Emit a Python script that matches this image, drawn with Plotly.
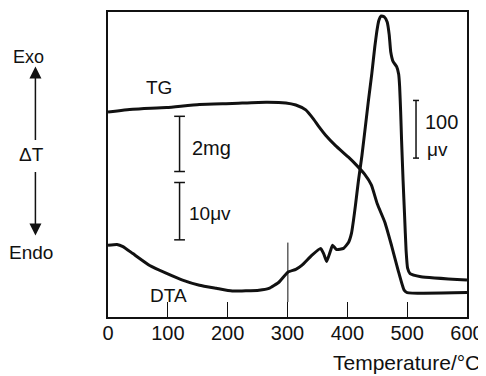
import plotly.graph_objects as go

# ---- data (y in arbitrary signal units, 0-100) ----
tg_temp = [0, 41.5, 98, 152.8, 207.6, 264.1, 297.3, 313.9, 330.5, 343.8, 352.1, 363.7,
           380.3, 401.9, 415.2, 428.5, 440.1, 450.0, 462.8, 473.8, 484.9, 494.9, 499.9, 600]
tg_val = [67.2, 68.1, 68.7, 69.7, 70.0, 70.4, 70.2, 69.5, 67.9, 64.8, 62.5, 59.6,
          56.2, 52.4, 49.8, 46.9, 43.3, 37.1, 31.0, 23.5, 15.3, 8.8, 8.0, 8.0]

dta_temp = [0, 15, 25, 41.5, 69.7, 98, 124.6, 152.8, 181, 207.6, 252.4, 269, 285.6,
            300.6, 313.9, 323.8, 340.5, 355.4, 360.4, 365.4, 372, 375.3, 382, 393.6,
            401.9, 406.9, 410.2, 413.5, 418.5, 424.3, 430.2, 435.1, 440.9, 445.9, 449.2,
            452.5, 456.7, 461.7, 466.6, 470.0, 472.5, 476.6, 482.4, 485.8, 487.4, 489.1,
            490.7, 493.2, 495.7, 498.2, 500.7, 504.8, 523.1, 600]
dta_val = [23.5, 23.8, 23.1, 20.8, 16.9, 14.3, 12.1, 10.4, 9.4, 8.5, 8.8, 9.4, 11.4,
           14.7, 15.6, 16.9, 20.2, 22.5, 20.8, 18.2, 21.8, 23.5, 22.1, 22.5,
           24.4, 27.4, 31.6, 36.5, 44.6, 52.8, 62.5, 70.7, 79.8, 88.6, 93.5,
           97.1, 98.7, 98.4, 96.7, 92.5, 87.0, 83.7, 82.1, 79.6, 75.6, 67.4,
           57.7, 44.6, 33.2, 21.8, 16.0, 14.2, 13.2, 12.1]

tick_vals = [0, 100, 200, 300, 400, 500, 600]
tick_text = ["0", "100", "200", "300", "400", "500", "600"]

marker_temp = 300.6  # onset marker on the DTA curve

FONT = "Liberation Sans"
BLACK = "#111111"

fig = go.Figure()
fig.add_trace(go.Scatter(x=tg_temp, y=tg_val, mode="lines",
                         line=dict(color=BLACK, width=3, shape="spline", smoothing=0.5),
                         showlegend=False, hoverinfo="skip"))
fig.add_trace(go.Scatter(x=dta_temp, y=dta_val, mode="lines",
                         line=dict(color=BLACK, width=3, shape="spline", smoothing=0.4),
                         showlegend=False, hoverinfo="skip"))

shapes = []
def vbar(x, y0, y1, half=9, w=1.5):
    shapes.append(dict(type="line", x0=x, x1=x, y0=y0, y1=y1, xref="x", yref="y",
                       line=dict(color=BLACK, width=w)))
    for yy in (y0, y1):
        shapes.append(dict(type="line", x0=x - half, x1=x + half, y0=yy, y1=yy,
                           xref="x", yref="y", line=dict(color=BLACK, width=w)))

vbar(119.6, 47.7, 65.8)   # 2 mg
vbar(119.6, 25.3, 44.1)   # 10 uV
vbar(514.8, 52.1, 71.0, half=5)   # 100 uV
shapes.append(dict(type="line", x0=marker_temp, x1=marker_temp, y0=4.9, y1=24.4,
                   xref="x", yref="y", line=dict(color=BLACK, width=1)))

ann = []
def txt(x, y, s, size=20, xanchor="center", ref="x"):
    ann.append(dict(x=x, y=y, xref=ref, yref=("y" if ref == "x" else "paper"), text=s,
                    showarrow=False, xanchor=xanchor, yanchor="middle",
                    font=dict(family=FONT, size=size, color=BLACK)))

# left-hand Exo / ΔT / Endo label (outside the plot area -> paper coordinates)
txt(-0.2216, 0.853, "Exo", 18, ref="paper")
txt(-0.2133, 0.534, "ΔT", 19, ref="paper")
txt(-0.2133, 0.212, "Endo", 19, ref="paper")

txt(84.7, 75.2, "TG", 19)
txt(101.3, 7.2, "DTA", 19)
txt(137.8, 55.4, "2mg", 20, "left")
txt(131.2, 33.9, "10μv", 19, "left")
txt(527.0, 63.8, "100", 20, "left")
txt(529.0, 55.0, "μv", 19, "left")

# arrows
ann.append(dict(x=-0.2022, y=0.821, xref="paper", yref="paper", ax=0, ay=75,
                text="", showarrow=True, arrowhead=2,
                arrowsize=1.6, arrowwidth=1.5, arrowcolor=BLACK))
ann.append(dict(x=-0.2022, y=0.267, xref="paper", yref="paper", ax=0, ay=-65,
                text="", showarrow=True, arrowhead=2,
                arrowsize=1.6, arrowwidth=1.5, arrowcolor=BLACK))

ann.append(dict(x=1.041, y=-0.15, xref="paper", yref="paper", text="Temperature/°C",
                showarrow=False, xanchor="right", yanchor="middle",
                font=dict(family=FONT, size=21, color=BLACK)))

# page body adds an 8px offset, so the figure is 8px smaller with shifted margins
fig.update_layout(
    width=478, height=368,
    margin=dict(l=100, r=17, t=2, b=59),
    paper_bgcolor="white", plot_bgcolor="white",
    shapes=shapes, annotations=ann,
    xaxis=dict(range=[0, 600], tickvals=tick_vals, ticktext=tick_text,
               ticks="inside", ticklen=15, tickwidth=1.2, tickcolor=BLACK,
               ticklabelstandoff=-3,
               showline=True, linecolor=BLACK, linewidth=1.5, mirror=True,
               showgrid=False, zeroline=False,
               tickfont=dict(family=FONT, size=20, color=BLACK)),
    yaxis=dict(range=[0, 100], showticklabels=False, ticks="",
               showline=True, linecolor=BLACK, linewidth=1.5, mirror=True,
               showgrid=False, zeroline=False),
)

fig.write_html("out.html")
